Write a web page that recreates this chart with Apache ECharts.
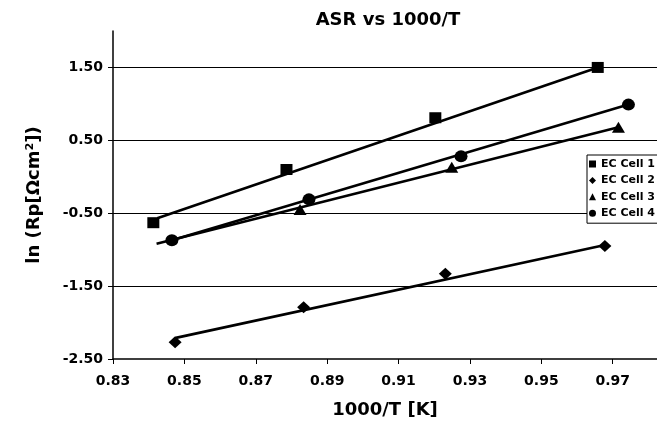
<!DOCTYPE html>
<html>
<head>
<meta charset="utf-8">
<script src="https://cdn.jsdelivr.net/npm/echarts@6/dist/echarts.min.js"></script>
<style>
  html, body { margin: 0; padding: 0; background: #fff; }
  #main { width: 657px; height: 424px; }
</style>
</head>
<body>
<div id="main"></div>
<script>
// measured points (1000/T, ln Rp)
const cell1X = [0.8413, 0.8786, 0.9203, 0.9658];
const cell1Y = [-0.63, 0.10, 0.81, 1.50];
const cell2X = [0.8474, 0.8834, 0.9231, 0.9678];
const cell2Y = [-2.27, -1.79, -1.33, -0.95];
const cell3X = [0.8824, 0.9249, 0.9716];
const cell3Y = [-0.45, 0.13, 0.68];
const cell4X = [0.8465, 0.8849, 0.9275, 0.9744];
const cell4Y = [-0.87, -0.31, 0.28, 0.99];

// trendline ends
const trend1 = [[0.8424, -0.57], [0.9658, 1.50]];
const trend2 = [[0.8476, -2.21], [0.9675, -0.94]];
const trend3 = [[0.8422, -0.92], [0.9716, 0.68]];
const trend4 = [[0.8465, -0.87], [0.9744, 0.99]];

const names = ["EC Cell 1", "EC Cell 2", "EC Cell 3", "EC Cell 4"];
const symbols = ["rect", "diamond", "triangle", "circle"];
const sizes = [[12, 11], [13, 12], [13, 11], [13, 12]];

const xs = [cell1X, cell2X, cell3X, cell4X];
const ys = [cell1Y, cell2Y, cell3Y, cell4Y];
const trends = [trend1, trend2, trend3, trend4];

const font = "DejaVu Sans, sans-serif";

let series = [];
for (let i = 0; i < 4; i++) {
  series.push({
    name: "fit" + (i + 1),
    type: "line",
    data: trends[i],
    symbol: "none",
    lineStyle: { color: "#000", width: 2.6 },
    silent: true,
    z: 2,
  });
}
for (let i = 0; i < 4; i++) {
  series.push({
    name: names[i],
    type: "scatter",
    data: xs[i].map((x, j) => [x, ys[i][j]]),
    symbol: symbols[i],
    symbolSize: sizes[i],
    itemStyle: { color: "#000", opacity: 1 },
    z: 3,
  });
}

const chart = echarts.init(document.getElementById("main"));
chart.setOption({
  animation: false,
  title: {
    text: "ASR vs 1000/T",
    left: 383,
    textAlign: "center",
    top: 6,
    textStyle: { fontFamily: font, fontSize: 18, fontWeight: "bold", color: "#000" },
  },
  grid: { left: 113, right: -10, top: 31, bottom: 64 },
  legend: {
    data: names.map((n, i) => ({ name: n, icon: symbols[i] })),
    orient: "vertical",
    left: 587,
    top: 155,
    itemWidth: 7,
    itemHeight: 7,
    itemGap: 4.4,
    padding: [3, 8, 4, 2],
    backgroundColor: "#fff",
    borderColor: "#000",
    borderWidth: 1,
    borderRadius: 0,
    itemStyle: { color: "#000" },
    textStyle: { fontFamily: font, fontSize: 11, lineHeight: 12, fontWeight: "bold", color: "#000" },
  },
  xAxis: {
    type: "value",
    min: 0.83,
    max: 0.9824,
    interval: 0.02,
    name: "1000/T [K]",
    nameLocation: "middle",
    nameGap: 42,
    nameTextStyle: { fontFamily: font, fontSize: 18, fontWeight: "bold", color: "#000" },
    axisLine: { onZero: false, lineStyle: { color: "#000", width: 1.5 } },
    axisTick: { lineStyle: { color: "#000" }, length: 5 },
    axisLabel: {
      showMaxLabel: false,
      margin: 15,
      fontFamily: font, fontSize: 14, fontWeight: "bold", color: "#000",
      formatter: (v) => v.toFixed(2),
    },
    splitLine: { show: false },
  },
  yAxis: {
    type: "value",
    min: -2.5,
    max: 2,
    interval: 1,
    name: "ln (Rp[Ωcm²])",
    nameLocation: "middle",
    nameGap: 70,
    nameTextStyle: { fontFamily: font, fontSize: 18, fontWeight: "bold", color: "#000" },
    axisLine: { show: true, onZero: false, lineStyle: { color: "#000", width: 1.5 } },
    axisTick: { show: true, length: 5, lineStyle: { color: "#000" } },
    axisLabel: {
      showMaxLabel: false,
      margin: 10,
      fontFamily: font, fontSize: 14, fontWeight: "bold", color: "#000",
      formatter: (v) => v.toFixed(2),
    },
    splitLine: { show: true, showMinLine: false, showMaxLine: false, lineStyle: { color: "#000", width: 1.2 } },
  },
  series: series,
});
</script>
</body>
</html>
